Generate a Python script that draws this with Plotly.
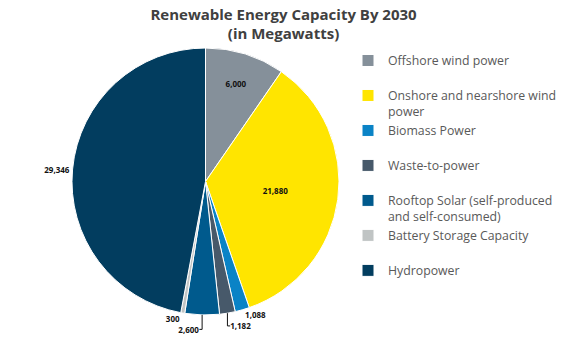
import plotly.graph_objects as go

categories = ["Offshore wind power", "Onshore and nearshore wind power", "Biomass Power",
              "Waste-to-power", "Rooftop Solar (self-produced and self-consumed)",
              "Battery Storage Capacity", "Hydropower"]
legend_labels = ["Offshore wind power<br> ", "Onshore and nearshore wind<br>power", "Biomass Power<br> ",
                 "Waste-to-power<br> ", "Rooftop Solar (self-produced<br>and self-consumed)",
                 "Battery Storage Capacity<br> ", "Hydropower<br> "]
values = [6000, 21880, 1088, 1182, 2600, 300, 29346]
colors = ["#85909A", "#FFE500", "#0A83C6", "#47596A", "#005A8D", "#C0C4C4", "#023D5F"]
text_positions = ["inside", "inside", "outside", "outside", "outside", "outside", "outside"]

W, H = 581, 341
cx, cy, r = 205.5, 181.5, 133.5

fig = go.Figure(go.Pie(
    labels=legend_labels,
    values=values,
    customdata=categories,
    sort=False,
    direction="clockwise",
    rotation=0,
    marker=dict(colors=colors, line=dict(color="white", width=1)),
    texttemplate="%{value:,}",
    textposition=text_positions,
    insidetextorientation="horizontal",
    textfont=dict(family="Open Sans", size=8, color="#111111", weight="bold"),
    hovertemplate="%{customdata}: %{value:,}<extra></extra>",
    domain=dict(x=[(cx - r) / W, (cx + r) / W], y=[(H - cy - r) / H, (H - cy + r) / H]),
))

fig.update_layout(
    width=W, height=H,
    margin=dict(l=0, r=0, t=0, b=0),
    paper_bgcolor="white",
    title=dict(text="<b>Renewable Energy Capacity By 2030<br>(in Megawatts)</b>",
               x=0.488, xanchor="center", y=0.942, yanchor="top",
               font=dict(family="Open Sans", size=15, color="#404040")),
    legend=dict(x=348 / W, xanchor="left", y=1 - 46 / H, yanchor="top",
                valign="top", itemwidth=30, bgcolor="rgba(0,0,0,0)",
                font=dict(family="Open Sans", size=12.3, color="#595959")),
    showlegend=True,
)

fig.write_html("out.html")
